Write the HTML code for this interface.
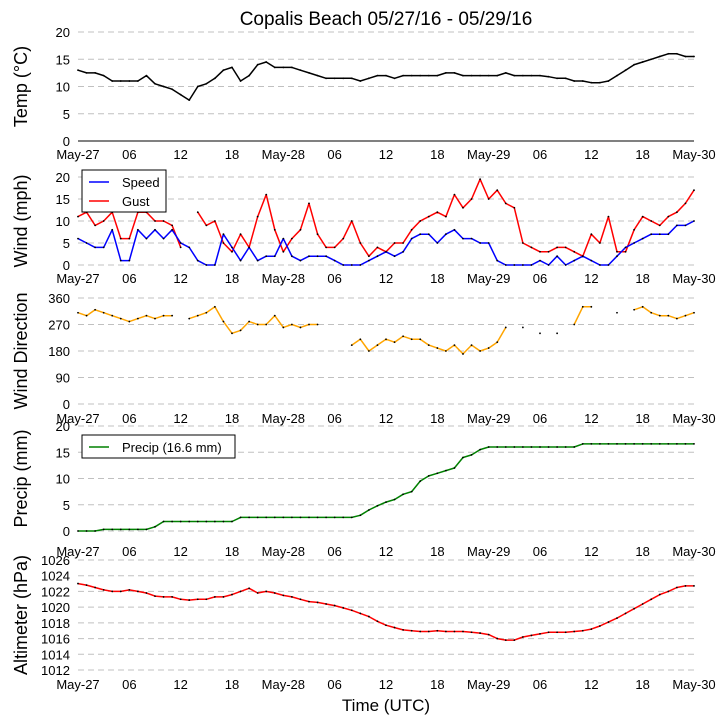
<!DOCTYPE html>
<html><head><meta charset="utf-8"><style>
body{margin:0;background:#fff}
svg{display:block;font-family:"Liberation Sans",sans-serif}
</style></head><body>
<svg id="c" width="728" height="725">
<text x="386" y="25" font-size="19" text-anchor="middle">Copalis Beach 05/27/16 - 05/29/16</text>
<text x="386" y="711" font-size="17" text-anchor="middle">Time (UTC)</text>
</svg>
<script>
const hours=[...Array(73).keys()];
const xTickLabels=["May-27","06","12","18","May-28","06","12","18","May-29","06","12","18","May-30"];
const temp=[13,12.5,12.5,12,11,11,11,11,12,10.5,10,9.5,8.5,7.5,10,10.5,11.5,13,13.5,11,12,14,14.5,13.5,13.5,13.5,13,12.5,12,11.5,11.5,11.5,11.5,11,11.5,12,12,11.5,12,12,12,12,12,12.5,12.5,12,12,12,12,12,12.5,12,12,12,12,11.8,11.5,11.5,11,11,10.7,10.7,11,12,13,14,14.5,15,15.5,16,16,15.5,15.5];
const speed=[6,5,4,4,8,1,1,8,6,8,6,8,5,4,1,0,0,7,4,1,4,1,2,2,6,2,1,2,2,2,1,0,0,0,1,2,3,2,3,6,7,7,5,7,8,6,6,5,5,1,0,0,0,0,1,0,2,0,1,2,1,0,0,2,4,5,6,7,7,7,9,9,10];
const gust=[11,12,9,10,12,6,6,12,12,10,10,9,4,null,12,9,10,5,3,7,4,11,16,8,3,6,8,14,7,4,4,6,10,5,2,4,3,5,5,8,10,11,12,11,16,13,15,19.5,15,17,14,13,5,4,3,3,4,4,3,2,7,5,11,3,3,8,11,10,9,11,12,14,17];
const direction=[310,300,320,310,300,290,280,290,300,290,300,300,null,290,300,310,330,280,240,250,280,270,270,300,260,270,260,270,270,null,null,null,200,220,180,200,220,210,230,220,220,200,190,180,200,170,200,180,190,210,260,null,260,null,240,null,240,null,270,330,330,null,null,310,null,320,330,310,300,300,290,300,310];
const precip=[0,0,0,0.3,0.3,0.3,0.3,0.3,0.3,0.8,1.8,1.8,1.8,1.8,1.8,1.8,1.8,1.8,1.8,2.6,2.6,2.6,2.6,2.6,2.6,2.6,2.6,2.6,2.6,2.6,2.6,2.6,2.6,3.0,4,4.8,5.5,6,7,7.5,9.5,10.5,11,11.5,12,14,14.5,15.5,16,16,16,16,16,16,16,16,16,16,16,16.6,16.6,16.6,16.6,16.6,16.6,16.6,16.6,16.6,16.6,16.6,16.6,16.6,16.6];
const altimeter=[1023,1022.8,1022.5,1022.2,1022,1022,1022.2,1022,1021.8,1021.4,1021.3,1021.3,1021,1020.9,1021,1021,1021.3,1021.3,1021.6,1022,1022.4,1021.8,1022,1021.8,1021.5,1021.3,1021,1020.7,1020.6,1020.4,1020.2,1019.9,1019.6,1019.2,1018.8,1018.2,1017.7,1017.4,1017.1,1017,1016.9,1016.9,1017,1016.9,1016.9,1016.9,1016.8,1016.7,1016.5,1016,1015.8,1015.8,1016.2,1016.4,1016.6,1016.8,1016.8,1016.8,1016.9,1017,1017.2,1017.6,1018.1,1018.6,1019.2,1019.8,1020.4,1021,1021.6,1022,1022.5,1022.7,1022.7];
const tempTicks=[0,5,10,15,20];
const windTicks=[0,5,10,15,20];
const dirTicks=[0,90,180,270,360];
const precipTicks=[0,5,10,15,20];
const altTicks=[1012,1014,1016,1018,1020,1022,1024,1026];

const NS="http://www.w3.org/2000/svg";
const svg=document.getElementById('c');
const X0=78,X1=694;
const xs=h=>X0+(X1-X0)*h/72;
function mk(tag,attrs,parent){const e=document.createElementNS(NS,tag);for(const k in attrs)e.setAttribute(k,attrs[k]);(parent||svg).appendChild(e);return e;}

function panel(name,top,bot,vmin,vmax,ticks,ylab,xlabY,narrow){
  const g=mk('g',{});
  
  
  const ys=v=>bot-(bot-top)*(v-vmin)/(vmax-vmin);
  ticks.forEach(t=>{
    const l=mk('line',{x1:X0,x2:X1,y1:ys(t),y2:ys(t),stroke:'#c0c0c0','stroke-dasharray':'6,4','stroke-width':1},g);
    
    
    const at={x:70,y:ys(t)+5,'font-size':13,'text-anchor':'end'};
    if(narrow){at.textLength=29;at.lengthAdjust='spacingAndGlyphs';at.x=70;}
    const tx=mk('text',at,g);
    
    
    tx.textContent=t;
  });
  xTickLabels.forEach((s,i)=>{
    const tx=mk('text',{x:xs(i*6),y:xlabY,'font-size':13,'text-anchor':'middle'},g);
    
    
    tx.textContent=s;
  });
  const yl=mk('text',{x:0,y:0,'font-size':18,'text-anchor':'middle',transform:`translate(27,${(top+bot)/2}) rotate(-90)`},g);
  
  
  yl.textContent=ylab;
  return {g,ys};
}
function series(p,name,vals,color,w){
  let d='';let pen=false;
  vals.forEach((v,i)=>{if(v===null){pen=false;return;}d+=(pen?'L':'M')+xs(hours[i]).toFixed(1)+','+p.ys(v).toFixed(1);pen=true;});
  const path=mk('path',{d,fill:'none',stroke:color,'stroke-width':w||1.5,'stroke-linejoin':'round'},p.g);
  
  
  vals.forEach((v,i)=>{if(v===null)return;
    const c=mk('circle',{cx:xs(hours[i]),cy:p.ys(v),r:0.9,fill:'#000'},p.g);
    
    
  });
}
function legend(p,name,x,y,w,h,items){
  const lg=mk('g',{},p.g);
  
  
  mk('rect',{x,y,width:w,height:h,fill:'#fff',stroke:'#000','stroke-width':1},lg);
  items.forEach((it,i)=>{
    const yy=y+12+i*19;
    mk('line',{x1:x+7,x2:x+27,y1:yy,y2:yy,stroke:it[1],'stroke-width':1.5},lg);
    const t=mk('text',{x:x+40,y:yy+5,'font-size':13},lg);
    
    
    t.textContent=it[0];
  });
}

const pT=panel('temp',32,141,0,20,tempTicks,'Temp (\u00b0C)',159);
mk('line',{x1:X0,x2:X1,y1:141,y2:141,stroke:'#000','stroke-width':1},pT.g);
series(pT,'temp',temp,'#000');

const pW=panel('wind',177,265,0,20,windTicks,'Wind (mph)',283);
series(pW,'gust',gust,'#ff0000');
series(pW,'speed',speed,'#0000ff');
legend(pW,'wind-legend',82,170,84,42,[['Speed','#0000ff'],['Gust','#ff0000']]);

const pD=panel('direction',298,404,0,360,dirTicks,'Wind Direction',423);
series(pD,'direction',direction,'#ffa500');

const pP=panel('precip',426,531,0,20,precipTicks,'Precip (mm)',556);
series(pP,'precip',precip,'#008000');
legend(pP,'precip-legend',82,435,153,23,[['Precip (16.6 mm)','#008000']]);

const pA=panel('altimeter',560,670,1012,1026,altTicks,'Altimeter (hPa)',689,true);
series(pA,'altimeter',altimeter,'#ff0000');
</script>
</body></html>
